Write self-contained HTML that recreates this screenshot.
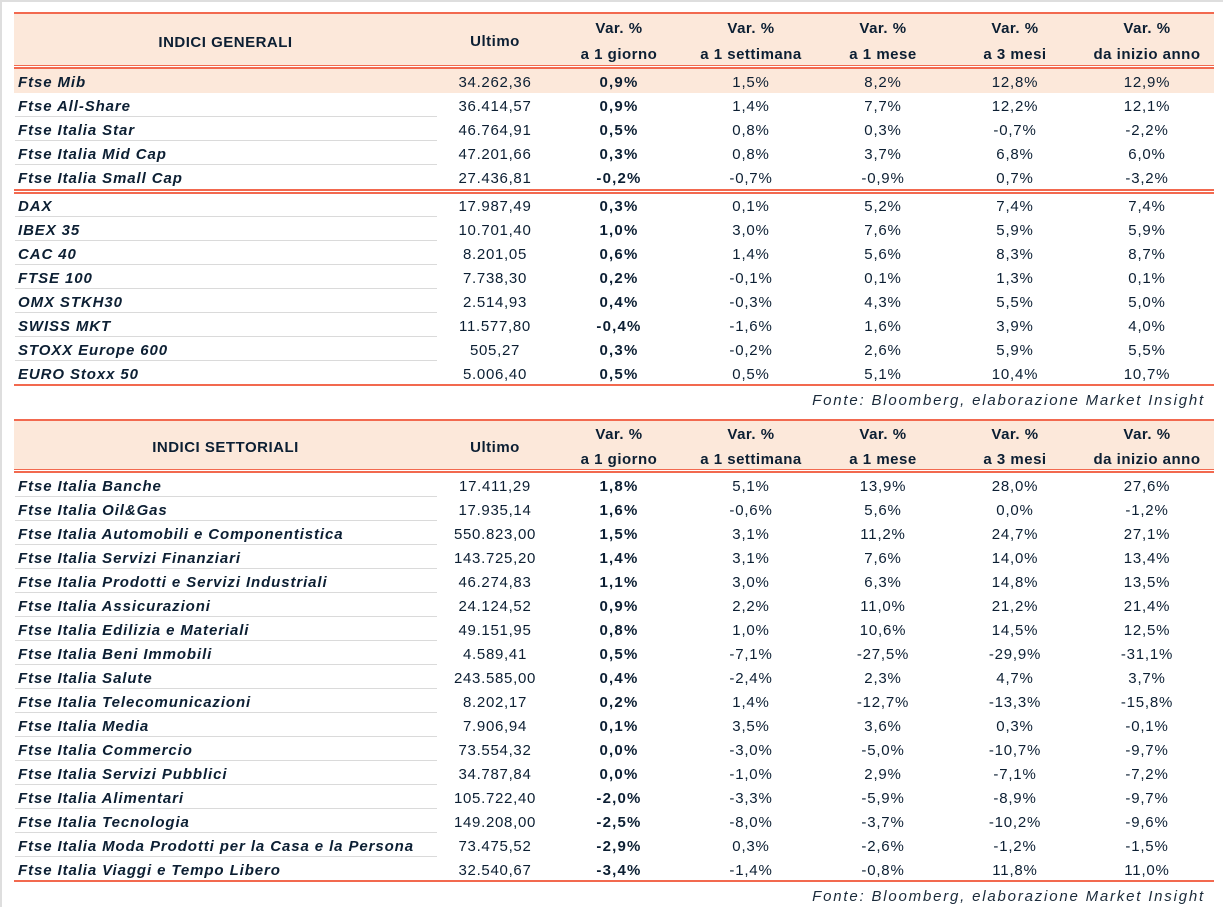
<!DOCTYPE html>
<html>
<head>
<meta charset="utf-8">
<style>
html,body{margin:0;padding:0;background:#fff;}
body{width:1223px;height:907px;position:relative;overflow:hidden;font-family:"Liberation Sans",sans-serif;color:#0c1f33;}
.gt{position:absolute;left:0;top:0;width:1223px;height:2px;background:#dedede;}
.gl{position:absolute;left:0;top:0;width:2px;height:907px;background:#dedede;}
.red{position:absolute;left:14px;width:1200px;background:#f2694f;}
.hbg{position:absolute;left:14px;width:1200px;background:#fce8da;}
.pk{position:absolute;left:14px;width:1200px;height:24px;background:#fce8da;}
.h{position:absolute;font-weight:bold;font-size:15px;letter-spacing:0.5px;text-align:center;line-height:20px;white-space:nowrap;}
.r{position:absolute;left:14px;width:1199px;height:24px;line-height:24px;font-size:15px;white-space:nowrap;}
.r span{position:absolute;top:2px;text-align:center;}
.r .n{left:4px;text-align:left;font-weight:bold;font-style:italic;letter-spacing:0.9px;}
.r .u{left:423px;width:116px;letter-spacing:0.7px;}
.r .a{left:539px;width:132px;font-weight:bold;letter-spacing:1.2px;}
.r .b{left:671px;width:132px;letter-spacing:0.8px;}
.r .c{left:803px;width:132px;letter-spacing:0.8px;}
.r .d{left:935px;width:132px;letter-spacing:0.8px;}
.r .e{left:1067px;width:132px;letter-spacing:0.8px;}
.r.g::after{content:"";position:absolute;left:1px;width:422px;top:23px;height:1px;background:#dadada;}
.f{position:absolute;right:18px;font-size:15px;font-style:italic;letter-spacing:1.8px;line-height:20px;white-space:nowrap;color:#1a2a3a;}
</style>
</head>
<body>
<div class="gt"></div>
<div class="gl"></div>

<!-- TABLE 1 -->
<div class="red" style="top:12px;height:2px"></div>
<div class="hbg" style="top:14px;height:51px"></div>
<div class="red" style="top:65px;height:1px"></div>
<div class="red" style="top:67px;height:2px"></div>
<div class="pk" style="top:69px"></div>

<div class="h" style="left:14px;width:423px;top:33px">INDICI GENERALI</div>
<div class="h" style="left:437px;width:116px;top:32px">Ultimo</div>
<div class="h" style="left:553px;width:132px;top:19px">Var. %</div>
<div class="h" style="left:553px;width:132px;top:45px">a 1 giorno</div>
<div class="h" style="left:685px;width:132px;top:19px">Var. %</div>
<div class="h" style="left:685px;width:132px;top:45px">a 1 settimana</div>
<div class="h" style="left:817px;width:132px;top:19px">Var. %</div>
<div class="h" style="left:817px;width:132px;top:45px">a 1 mese</div>
<div class="h" style="left:949px;width:132px;top:19px">Var. %</div>
<div class="h" style="left:949px;width:132px;top:45px">a 3 mesi</div>
<div class="h" style="left:1081px;width:132px;top:19px">Var. %</div>
<div class="h" style="left:1081px;width:132px;top:45px">da inizio anno</div>

<div class="r" style="top:69px"><span class="n">Ftse Mib</span><span class="u">34.262,36</span><span class="a">0,9%</span><span class="b">1,5%</span><span class="c">8,2%</span><span class="d">12,8%</span><span class="e">12,9%</span></div>
<div class="r g" style="top:93px"><span class="n">Ftse All-Share</span><span class="u">36.414,57</span><span class="a">0,9%</span><span class="b">1,4%</span><span class="c">7,7%</span><span class="d">12,2%</span><span class="e">12,1%</span></div>
<div class="r g" style="top:117px"><span class="n">Ftse Italia Star</span><span class="u">46.764,91</span><span class="a">0,5%</span><span class="b">0,8%</span><span class="c">0,3%</span><span class="d">-0,7%</span><span class="e">-2,2%</span></div>
<div class="r g" style="top:141px"><span class="n">Ftse Italia Mid Cap</span><span class="u">47.201,66</span><span class="a">0,3%</span><span class="b">0,8%</span><span class="c">3,7%</span><span class="d">6,8%</span><span class="e">6,0%</span></div>
<div class="r" style="top:165px"><span class="n">Ftse Italia Small Cap</span><span class="u">27.436,81</span><span class="a">-0,2%</span><span class="b">-0,7%</span><span class="c">-0,9%</span><span class="d">0,7%</span><span class="e">-3,2%</span></div>

<div class="red" style="top:189px;height:2px"></div>
<div class="red" style="top:192px;height:2px"></div>

<div class="r g" style="top:193px"><span class="n">DAX</span><span class="u">17.987,49</span><span class="a">0,3%</span><span class="b">0,1%</span><span class="c">5,2%</span><span class="d">7,4%</span><span class="e">7,4%</span></div>
<div class="r g" style="top:217px"><span class="n">IBEX 35</span><span class="u">10.701,40</span><span class="a">1,0%</span><span class="b">3,0%</span><span class="c">7,6%</span><span class="d">5,9%</span><span class="e">5,9%</span></div>
<div class="r g" style="top:241px"><span class="n">CAC 40</span><span class="u">8.201,05</span><span class="a">0,6%</span><span class="b">1,4%</span><span class="c">5,6%</span><span class="d">8,3%</span><span class="e">8,7%</span></div>
<div class="r g" style="top:265px"><span class="n">FTSE 100</span><span class="u">7.738,30</span><span class="a">0,2%</span><span class="b">-0,1%</span><span class="c">0,1%</span><span class="d">1,3%</span><span class="e">0,1%</span></div>
<div class="r g" style="top:289px"><span class="n">OMX STKH30</span><span class="u">2.514,93</span><span class="a">0,4%</span><span class="b">-0,3%</span><span class="c">4,3%</span><span class="d">5,5%</span><span class="e">5,0%</span></div>
<div class="r g" style="top:313px"><span class="n">SWISS MKT</span><span class="u">11.577,80</span><span class="a">-0,4%</span><span class="b">-1,6%</span><span class="c">1,6%</span><span class="d">3,9%</span><span class="e">4,0%</span></div>
<div class="r g" style="top:337px"><span class="n">STOXX Europe 600</span><span class="u">505,27</span><span class="a">0,3%</span><span class="b">-0,2%</span><span class="c">2,6%</span><span class="d">5,9%</span><span class="e">5,5%</span></div>
<div class="r" style="top:361px"><span class="n">EURO Stoxx 50</span><span class="u">5.006,40</span><span class="a">0,5%</span><span class="b">0,5%</span><span class="c">5,1%</span><span class="d">10,4%</span><span class="e">10,7%</span></div>

<div class="red" style="top:384px;height:2px"></div>
<div class="f" style="top:391px">Fonte: Bloomberg, elaborazione Market Insight</div>

<!-- TABLE 2 -->
<div class="red" style="top:419px;height:2px"></div>
<div class="hbg" style="top:421px;height:48px"></div>
<div class="red" style="top:469px;height:1px"></div>
<div class="red" style="top:471px;height:2px"></div>

<div class="h" style="left:14px;width:423px;top:438px">INDICI SETTORIALI</div>
<div class="h" style="left:437px;width:116px;top:438px">Ultimo</div>
<div class="h" style="left:553px;width:132px;top:425px">Var. %</div>
<div class="h" style="left:553px;width:132px;top:450px">a 1 giorno</div>
<div class="h" style="left:685px;width:132px;top:425px">Var. %</div>
<div class="h" style="left:685px;width:132px;top:450px">a 1 settimana</div>
<div class="h" style="left:817px;width:132px;top:425px">Var. %</div>
<div class="h" style="left:817px;width:132px;top:450px">a 1 mese</div>
<div class="h" style="left:949px;width:132px;top:425px">Var. %</div>
<div class="h" style="left:949px;width:132px;top:450px">a 3 mesi</div>
<div class="h" style="left:1081px;width:132px;top:425px">Var. %</div>
<div class="h" style="left:1081px;width:132px;top:450px">da inizio anno</div>

<div class="r g" style="top:473px"><span class="n">Ftse Italia Banche</span><span class="u">17.411,29</span><span class="a">1,8%</span><span class="b">5,1%</span><span class="c">13,9%</span><span class="d">28,0%</span><span class="e">27,6%</span></div>
<div class="r g" style="top:497px"><span class="n">Ftse Italia Oil&amp;Gas</span><span class="u">17.935,14</span><span class="a">1,6%</span><span class="b">-0,6%</span><span class="c">5,6%</span><span class="d">0,0%</span><span class="e">-1,2%</span></div>
<div class="r g" style="top:521px"><span class="n">Ftse Italia Automobili e Componentistica</span><span class="u">550.823,00</span><span class="a">1,5%</span><span class="b">3,1%</span><span class="c">11,2%</span><span class="d">24,7%</span><span class="e">27,1%</span></div>
<div class="r g" style="top:545px"><span class="n">Ftse Italia Servizi Finanziari</span><span class="u">143.725,20</span><span class="a">1,4%</span><span class="b">3,1%</span><span class="c">7,6%</span><span class="d">14,0%</span><span class="e">13,4%</span></div>
<div class="r g" style="top:569px"><span class="n">Ftse Italia Prodotti e Servizi Industriali</span><span class="u">46.274,83</span><span class="a">1,1%</span><span class="b">3,0%</span><span class="c">6,3%</span><span class="d">14,8%</span><span class="e">13,5%</span></div>
<div class="r g" style="top:593px"><span class="n">Ftse Italia Assicurazioni</span><span class="u">24.124,52</span><span class="a">0,9%</span><span class="b">2,2%</span><span class="c">11,0%</span><span class="d">21,2%</span><span class="e">21,4%</span></div>
<div class="r g" style="top:617px"><span class="n">Ftse Italia Edilizia e Materiali</span><span class="u">49.151,95</span><span class="a">0,8%</span><span class="b">1,0%</span><span class="c">10,6%</span><span class="d">14,5%</span><span class="e">12,5%</span></div>
<div class="r g" style="top:641px"><span class="n">Ftse Italia Beni Immobili</span><span class="u">4.589,41</span><span class="a">0,5%</span><span class="b">-7,1%</span><span class="c">-27,5%</span><span class="d">-29,9%</span><span class="e">-31,1%</span></div>
<div class="r g" style="top:665px"><span class="n">Ftse Italia Salute</span><span class="u">243.585,00</span><span class="a">0,4%</span><span class="b">-2,4%</span><span class="c">2,3%</span><span class="d">4,7%</span><span class="e">3,7%</span></div>
<div class="r g" style="top:689px"><span class="n">Ftse Italia Telecomunicazioni</span><span class="u">8.202,17</span><span class="a">0,2%</span><span class="b">1,4%</span><span class="c">-12,7%</span><span class="d">-13,3%</span><span class="e">-15,8%</span></div>
<div class="r g" style="top:713px"><span class="n">Ftse Italia Media</span><span class="u">7.906,94</span><span class="a">0,1%</span><span class="b">3,5%</span><span class="c">3,6%</span><span class="d">0,3%</span><span class="e">-0,1%</span></div>
<div class="r g" style="top:737px"><span class="n">Ftse Italia Commercio</span><span class="u">73.554,32</span><span class="a">0,0%</span><span class="b">-3,0%</span><span class="c">-5,0%</span><span class="d">-10,7%</span><span class="e">-9,7%</span></div>
<div class="r g" style="top:761px"><span class="n">Ftse Italia Servizi Pubblici</span><span class="u">34.787,84</span><span class="a">0,0%</span><span class="b">-1,0%</span><span class="c">2,9%</span><span class="d">-7,1%</span><span class="e">-7,2%</span></div>
<div class="r g" style="top:785px"><span class="n">Ftse Italia Alimentari</span><span class="u">105.722,40</span><span class="a">-2,0%</span><span class="b">-3,3%</span><span class="c">-5,9%</span><span class="d">-8,9%</span><span class="e">-9,7%</span></div>
<div class="r g" style="top:809px"><span class="n">Ftse Italia Tecnologia</span><span class="u">149.208,00</span><span class="a">-2,5%</span><span class="b">-8,0%</span><span class="c">-3,7%</span><span class="d">-10,2%</span><span class="e">-9,6%</span></div>
<div class="r g" style="top:833px"><span class="n">Ftse Italia Moda Prodotti per la Casa e la Persona</span><span class="u">73.475,52</span><span class="a">-2,9%</span><span class="b">0,3%</span><span class="c">-2,6%</span><span class="d">-1,2%</span><span class="e">-1,5%</span></div>
<div class="r" style="top:857px"><span class="n">Ftse Italia Viaggi e Tempo Libero</span><span class="u">32.540,67</span><span class="a">-3,4%</span><span class="b">-1,4%</span><span class="c">-0,8%</span><span class="d">11,8%</span><span class="e">11,0%</span></div>

<div class="red" style="top:880px;height:2px"></div>
<div class="f" style="top:887px">Fonte: Bloomberg, elaborazione Market Insight</div>
</body>
</html>
